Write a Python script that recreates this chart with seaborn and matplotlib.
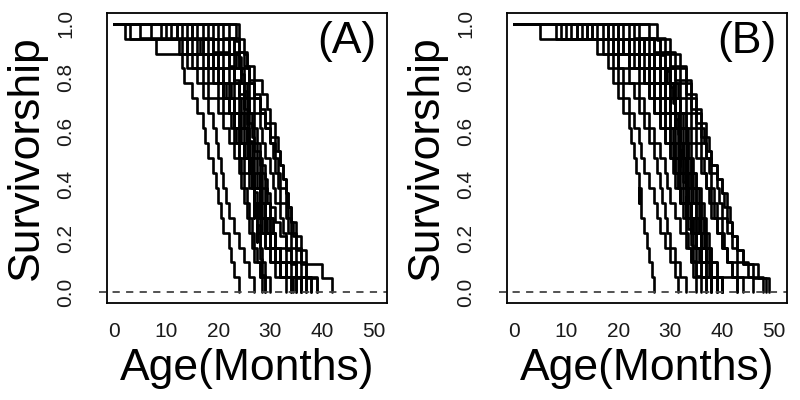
import pandas as pd
import seaborn as sns
import matplotlib
matplotlib.use("Agg")
import matplotlib.pyplot as plt

# death ages (months) per cohort, panel A
a01 = [7, 12.5, 13, 13.5, 15, 16, 17, 17.5, 18, 19, 19.5, 20, 20.5, 21, 22, 22.5, 23, 24]
a02 = [3, 13, 15, 16, 17, 18, 19, 19.5, 20, 20.5, 21, 21.5, 22, 23, 24, 25, 26, 27]
a03 = [10, 14, 16, 17, 18, 20, 21, 22, 23, 24, 24.5, 25, 25.5, 26, 26.5, 27, 28, 28.5]
a04 = [15, 17, 19, 20, 21, 22, 23, 23.5, 24, 24.5, 25, 25.5, 26, 26.5, 27, 27.5, 28, 29]
a05 = [23.5, 24, 24.5, 25, 25, 25.5, 26, 26, 26.5, 27, 27, 27.5, 27.5, 28, 28.5, 29]
a06 = [9, 15, 18, 21, 22, 23, 24, 24.5, 25, 26, 26.5, 27, 28, 28.5, 29, 30, 31, 34]
a07 = [12, 16, 20, 22, 23, 24, 25, 25.5, 26, 26.5, 27, 28, 29, 30, 31, 32, 33, 35]
a08 = [14, 19, 21, 23, 24, 25, 25.5, 26, 27, 27.5, 28, 29, 30, 30.5, 31, 32, 34, 36]
a09 = [18, 22, 24, 25, 26, 27, 28, 28.5, 29, 30, 30.5, 31, 32, 32.5, 33, 34, 35, 37]
a10 = [20, 23, 24, 26, 27, 28, 29, 30, 30.5, 31, 31.5, 32, 33, 33.5, 34, 35, 36, 38]
a11 = [22, 24, 25.5, 27, 28.5, 29.5, 30, 31, 31.5, 32, 32.5, 33, 33.5, 34, 35, 36, 37, 40, 42]
a12 = [11, 17, 19, 21, 22.5, 23, 24, 25, 25.5, 26, 26.5, 27, 27.5, 28, 29, 30, 33, 39]
a13 = [16, 20, 22, 23, 24, 24.5, 25, 25.5, 26, 26, 26.5, 27, 27, 27.5, 28, 28.5, 29, 30]
a14 = [13, 18, 20, 21, 21.5, 22, 23, 24, 25, 26, 26.5, 27, 28, 29, 30, 31, 32, 33]
a15 = [5, 19, 22, 23, 24, 25, 26, 26.5, 27, 28, 29, 29.5, 30, 31, 32, 33, 34, 35, 36]
a16 = [17, 21, 23, 24.5, 25.5, 26, 27, 27.5, 28, 28.5, 29, 29.5, 30, 30.5, 31, 32, 33, 34.5]
a17 = [15, 16.5, 18, 19, 20, 21, 23, 24, 25, 26, 27, 28, 28.5, 29, 30, 31, 32, 34]
a18 = [24, 25, 25.5, 26, 27, 28, 29, 30, 31, 31.5, 32, 33, 33.5, 34, 35, 36, 37, 38]
a19 = [2, 8, 14, 18, 21, 23, 24.5, 25.5, 26, 27, 27.5, 28, 29, 30, 31, 33, 35, 37]
a20 = [19, 22, 23.5, 24.5, 25, 26, 26.5, 27, 27.5, 28, 28, 28.5, 29, 29.5, 30, 31, 32, 36]
a21 = [12, 14, 17, 20, 21, 22, 22.5, 23, 24, 25, 26, 27, 28, 29, 30, 32, 33, 35]
a22 = [21, 23, 25, 26, 27, 28, 29, 30, 31, 32, 32.5, 33, 33.5, 34, 34.5, 35, 36, 37, 39]

# death ages (months) per cohort, panel B
b01 = [5, 16, 18, 19, 20, 21, 22, 22.5, 23, 23.5, 24, 24, 24.5, 25, 25.5, 26, 26.5, 27]
b02 = [10, 17, 19, 20, 21, 22, 23, 24, 24.5, 25, 26, 27, 27.5, 28, 29, 30, 31, 31.5]
b03 = [13, 19, 20, 21, 23, 24, 25, 26, 27, 27.5, 28, 28.5, 29, 29.5, 30, 31, 32, 33]
b04 = [8, 18, 20, 22, 24, 25, 26, 27, 28, 29, 29.5, 30, 31, 32, 33, 34, 35, 37]
b05 = [14, 21, 24, 26, 27, 28, 29, 30, 30.5, 31, 31.5, 32, 32.5, 33, 33.5, 34, 34.5, 35]
b06 = [15, 22, 25, 27, 28, 29, 30, 30.5, 31, 31.5, 32, 32.5, 33, 34, 35, 36, 37, 38]
b07 = [27.5, 28, 29, 30, 30.5, 31, 31.5, 32, 32, 32.5, 33, 33, 33.5, 34, 34.5, 35, 36]
b08 = [12, 20, 24, 26, 28, 29, 30, 31, 31.5, 32, 32.5, 33, 34, 35, 36, 37, 38, 40]
b09 = [18, 23, 26, 28, 29, 30, 31, 31.5, 32, 32.5, 33, 33.5, 34, 34.5, 35, 36, 37, 39]
b10 = [20, 26, 28, 29, 30, 31, 32, 32.5, 33, 33.5, 34, 34.5, 35, 35.5, 36, 37, 38, 39]
b11 = [16, 24, 27, 29, 30, 31, 32, 33, 33.5, 34, 35, 35.5, 36, 36.5, 37, 37.5, 38, 40]
b12 = [22, 28, 30, 32, 33, 34, 35, 36, 37, 38, 39, 39.5, 40, 41, 42, 43, 45, 48]
b13 = [24, 29, 31, 33, 34, 35, 36, 37, 37.5, 38, 39, 40, 41, 41.5, 42, 43, 44, 46, 49]
b14 = [23, 27, 30, 31, 33, 34, 35, 36, 37, 38, 39, 40, 40.5, 41, 42, 43, 44, 47, 48.5]
b15 = [11, 21, 23, 25, 26, 27, 28, 29, 30, 30.5, 31, 32, 33, 34, 35, 36, 38, 43]
b16 = [19, 25, 28, 29.5, 30.5, 31, 31.5, 32, 32.5, 33, 33, 33.5, 34, 34.5, 35, 35.5, 36, 37]
b17 = [17, 22, 24, 27, 29, 30, 31, 32, 32.5, 33, 34, 35, 36, 36.5, 37, 38, 39, 40]
b18 = [14, 20, 22, 24, 26, 27, 28, 29, 30, 31, 31.5, 32, 33, 34, 34.5, 35, 36, 38]
b19 = [12, 24, 28, 30, 31, 32, 32.5, 33, 33.5, 34, 34.5, 35, 35.5, 36, 36.5, 37, 37.5, 38]
b20 = [21, 27, 29, 31, 32, 33, 34, 35, 36, 36.5, 37, 37.5, 38, 39, 40, 41, 43, 46]
b21 = [9, 22, 26, 28, 29, 30, 31, 32, 32.5, 33, 33.5, 34, 35, 35.5, 36, 37, 38, 39]
b22 = [20, 25, 27, 29, 31, 32, 33, 33.5, 34, 34.5, 35, 36, 36.5, 37, 37.5, 38, 39, 40]
b23 = [18, 24, 27, 30, 31.5, 32, 33, 34, 35, 36, 37, 38, 38.5, 39, 40, 41, 42, 44]
b24 = [15, 19, 22, 25, 27, 28, 29, 30, 31, 32, 33, 33.5, 34, 35, 36, 37, 38, 40]
b25 = [26, 30, 32, 33, 34, 35, 36, 36.5, 37, 37.5, 38, 38.5, 39, 40, 40.5, 41, 42, 43]

panel_a = [a01, a02, a03, a04, a05, a06, a07, a08, a09, a10, a11,
           a12, a13, a14, a15, a16, a17, a18, a19, a20, a21, a22]
panel_b = [b01, b02, b03, b04, b05, b06, b07, b08, b09, b10, b11, b12, b13,
           b14, b15, b16, b17, b18, b19, b20, b21, b22, b23, b24, b25]

x_ticks = [0, 10, 20, 30, 40, 50]
y_ticks = [0.0, 0.2, 0.4, 0.6, 0.8, 1.0]
panel_labels = ["(A)", "(B)"]


def survival_table(cohorts):
    rows = []
    for k, ages in enumerate(cohorts):
        ages = sorted(ages)
        n = len(ages)
        rows.append((k, 0.0, 1.0))
        for i, t in enumerate(ages):
            rows.append((k, t, 1 - (i + 1) / n))
    return pd.DataFrame(rows, columns=["cohort", "age", "surv"])


def draw_panel(ax, cohorts, label):
    df = survival_table(cohorts)
    sns.lineplot(data=df, x="age", y="surv", units="cohort", estimator=None,
                 drawstyle="steps-post", color="black", linewidth=1.9,
                 legend=False, ax=ax)
    ax.axhline(0, color="#444444", linestyle=(0, (4, 3.5)), linewidth=1.3,
               xmin=-0.03, clip_on=False)
    ax.set_xlim(-1.4, 52.6)
    ax.set_ylim(-0.04, 1.04)
    ax.set_xticks(x_ticks)
    ax.set_yticks(y_ticks)
    ax.set_yticklabels([f"{v:.1f}" for v in y_ticks], rotation=90, va="center")
    ax.tick_params(axis="x", length=6.5, color="#dddddd", labelsize=15,
                   labelcolor="#1a1a1a", pad=7)
    ax.tick_params(axis="y", length=9, color="black", width=1.2,
                   labelsize=15, labelcolor="#1a1a1a", pad=14)
    ax.set_xlabel("Age(Months)", fontsize=32, labelpad=5, color="black")
    ax.set_ylabel("Survivorship", fontsize=32, labelpad=7, color="black")
    for s in ax.spines.values():
        s.set_color("black")
        s.set_linewidth(1.3)
    ax.text(0.857, 0.90, label, transform=ax.transAxes, fontsize=32,
            ha="center", va="center", color="black")


sns.set_theme(style="white")
plt.rcParams["font.family"] = ["Liberation Sans", "DejaVu Sans"]

fig = plt.figure(figsize=(8, 4), dpi=100)
ax1 = fig.add_axes([0.134, 0.2425, 0.35, 0.725])
ax2 = fig.add_axes([0.634, 0.2425, 0.35, 0.725])

draw_panel(ax1, panel_a, panel_labels[0])
draw_panel(ax2, panel_b, panel_labels[1])

fig.savefig("out.png", dpi=100)
